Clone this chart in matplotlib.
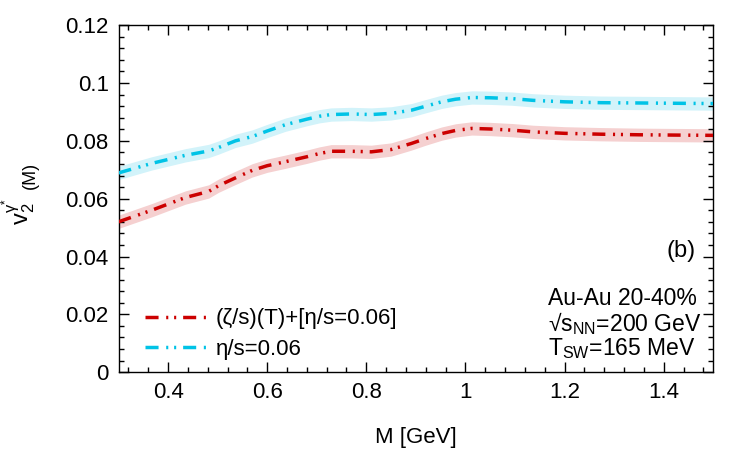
import matplotlib
matplotlib.use("Agg")
import matplotlib.pyplot as plt
import numpy as np
from matplotlib.ticker import MultipleLocator, FuncFormatter

plt.rcParams['font.family'] = ['Liberation Sans', 'DejaVu Sans']
plt.rcParams['mathtext.fontset'] = 'custom'
plt.rcParams['mathtext.rm'] = 'Liberation Sans'
plt.rcParams['mathtext.it'] = 'Liberation Sans:italic'
plt.rcParams['lines.scale_dashes'] = False

# data
M = [0.30, 0.367, 0.435, 0.482, 0.502, 0.536, 0.57, 0.60, 0.637, 0.68, 0.705, 0.729, 0.77, 0.81,
     0.85, 0.891, 0.92, 0.952, 0.98, 1.013, 1.05, 1.094, 1.137, 1.20, 1.273, 1.35, 1.42, 1.50]
v2_bulk = [0.0520, 0.0560, 0.0604, 0.0625, 0.0645, 0.0672, 0.0698, 0.0714, 0.0728, 0.0745, 0.0756, 0.0764, 0.0764, 0.0762,
           0.0770, 0.0791, 0.0808, 0.0825, 0.0836, 0.0843, 0.0841, 0.0837, 0.0831, 0.0826, 0.0823, 0.0821, 0.0820, 0.0819]
v2_shear = [0.0689, 0.0722, 0.0750, 0.0765, 0.0777, 0.0800, 0.0815, 0.0834, 0.0856, 0.0875, 0.0885, 0.0891, 0.0893, 0.0891,
            0.0895, 0.0906, 0.0920, 0.0935, 0.0944, 0.0950, 0.0949, 0.0946, 0.0940, 0.0935, 0.0932, 0.0931, 0.0930, 0.0929]
err_bulk = 0.0023
err_shear = 0.0023

labels = ['(ζ/s)(T)+[η/s=0.06]', 'η/s=0.06']
colors = ['#cc0000', '#00c3e6']
band_colors = ['#f5d0d0', '#d2f3fa']

fig = plt.figure(figsize=(7.5, 4.5), dpi=100)
ax = fig.add_axes([0.158, 0.173, 0.793, 0.771])

M_a = np.array(M)
dash = (0, (9.4, 5.5, 1.5, 4.2, 1.5, 5.0))
for vals, err, c, bc, lab in [(v2_bulk, err_bulk, colors[0], band_colors[0], labels[0]),
                               (v2_shear, err_shear, colors[1], band_colors[1], labels[1])]:
    v = np.array(vals)
    ax.fill_between(M_a, v - err, v + err, color=bc, lw=0, zorder=1)
    ax.plot(M_a, v, color=c, lw=2.5, linestyle=dash, label=lab, zorder=3)

ax.set_xlim(0.3, 1.5)
ax.set_ylim(0, 0.12)
ax.xaxis.set_major_locator(MultipleLocator(0.2))
ax.xaxis.set_minor_locator(MultipleLocator(0.04))
ax.yaxis.set_major_locator(MultipleLocator(0.02))
ax.yaxis.set_minor_locator(MultipleLocator(0.004))
fmt = FuncFormatter(lambda x, p: '%g' % round(x, 6))
ax.xaxis.set_major_formatter(fmt)
ax.yaxis.set_major_formatter(fmt)
ax.tick_params(which='both', direction='in', top=True, right=True, labelsize=16, width=1)
ax.tick_params(which='major', length=7, pad=7)
ax.tick_params(which='minor', length=3.5)
for s in ax.spines.values():
    s.set_linewidth(1)

ax.set_xlabel('M [GeV]', fontsize=16)
ax.xaxis.set_label_coords(0.5, -0.158)

# y label in two parts: v_2^{gamma*} and a smaller (M)
fig.text(29 / 750, 1 - 225 / 450, r'$\mathregular{v_2^{\gamma^{*}}}$', fontsize=17, rotation=90,
         rotation_mode='anchor', ha='left', va='baseline')
fig.text(35 / 750, 1 - 189 / 450, '(M)', fontsize=13, rotation=90,
         rotation_mode='anchor', ha='left', va='baseline')

leg = ax.legend(loc='lower left', bbox_to_anchor=(0.012, -0.02), frameon=False, fontsize=16,
                handlelength=2.8, handletextpad=0.4, labelspacing=0.44, borderaxespad=0.45)

ax.text(0.97, 0.35, '(b)', transform=ax.transAxes, fontsize=17, ha='right', va='center')
ax.text(0.722, 0.213, 'Au-Au 20-40%', transform=ax.transAxes, fontsize=16.5, ha='left', va='center')
ax.text(0.722, 0.141, r'√s$\mathregular{_{NN}}$=200 GeV', transform=ax.transAxes, fontsize=16.5, ha='left', va='center')
ax.text(0.722, 0.069, r'T$\mathregular{_{SW}}$=165 MeV', transform=ax.transAxes, fontsize=16.5, ha='left', va='center')

fig.savefig('out.png', dpi=100)
